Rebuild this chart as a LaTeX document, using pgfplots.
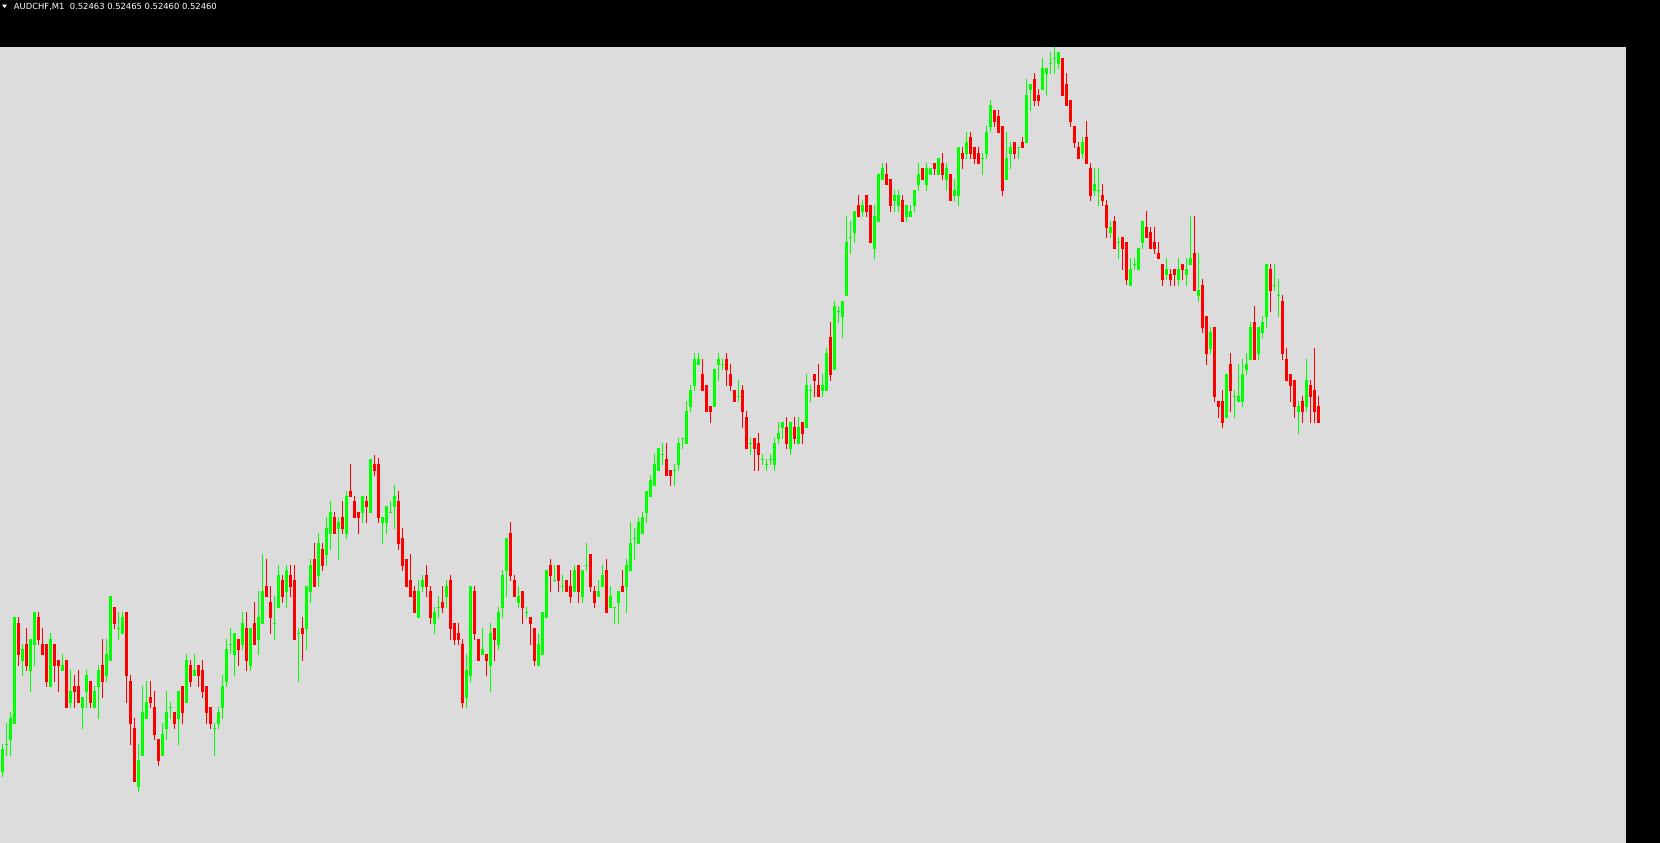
\documentclass[border=0pt]{standalone}
\usepackage{pgfplots}
\usepackage{pgfplotstable}
\pgfplotsset{compat=1.18}
\usepackage{fontspec}
\newfontfamily\hdrfont{DejaVu Sans}
\definecolor{bggray}{RGB}{220,220,220}
\pgfplotstableread{
i O H L C
0 771.7 744 776.7 749
1 745 723.3 755.7 744
2 739.7 712 755.7 718
3 723.7 617 723.7 617
4 623 617 666 655
5 660.7 644 676 649
6 644 628 671 665.7
7 671 639 691.7 639
8 645 612 665.7 612
9 617 612 645 640
10 644 628 655 655
11 644 644 686.7 682
12 687 633 687 639
13 644 644 682 665.7
14 660 660 691.7 665.7
15 670.7 654 670.7 665
16 660 660 707.7 707.7
17 702.7 670 707.7 691
18 686 675 707.7 691.7
19 686 670 702.7 702.7
20 707.7 697 728.7 697
21 691.7 670 707.7 675
22 681 681 707.7 702.7
23 707.7 686 707.7 691
24 686.7 665 718.7 670
25 665 639 697.7 682
26 676 639 682 654
27 660.7 596 660.7 596
28 607 607 629 623.7
29 629 612 639.7 628
30 633.7 612 633.7 617
31 612 612 702.7 676
32 681 675 744.7 723.7
33 728 718 781.7 781.7
34 786.7 744 792.3 760
35 755.7 686 755.7 712
36 718.7 681 718.7 702
37 697 681 707.7 702.7
38 707 691 739.7 734.7
39 739 739 765.7 760.7
40 755.7 723 755.7 734
41 728.7 691 739.7 712
42 707.8 702 718.7 706.8
43 712 712 728.7 723.7
44 718.7 691 744.7 691
45 686 686 723.7 712.7
46 702.7 654 702.7 660
47 665 660 686.7 682
48 675.7 654 675.7 670
49 665 665 686.7 675.7
50 670 660 697.7 691.7
51 686 686 723.7 712.7
52 707 707 728.7 723.7
53 728.8 722.7 755.7 727.8
54 723.7 707 728.7 712
55 707.7 675 718.7 686
56 681.7 638.7 686.7 649
57 644.5 628 654.3 643.5
58 655 633 675.7 633
59 638.7 638.7 665.7 649.7
60 644.7 612 649.7 623
61 628 612 670.7 660.7
62 665.7 628 670.7 628
63 623 602 644.7 644.7
64 639.7 591 654.7 617
65 623.7 554 623.7 591
66 586 559 596.7 596.7
67 602 586 633.7 617.7
68 623.8 596 639.7 622.8
69 607.7 565 607.7 575
70 580 575 602.7 596.7
71 591.7 565 607.7 570
72 575 565 596.7 586.7
73 580 565 639.7 639.7
74 633.8 628 681.7 632.8
75 628 617 660.7 633.7
76 628.7 586 649.7 586
77 591.7 559 602.7 565
78 559 543 586.7 586.7
79 575.7 533 586.7 543
80 549 543 570.7 565.7
81 554.7 517 565.7 528
82 533.7 501 549.7 512
83 517 512 533.7 533.7
84 528.7 517 559.7 522
85 517 501 533.7 528.7
86 533.7 491 538.7 496
87 491 464 496.7 496.7
88 501 496 517.7 517.7
89 512 512 533.7 517.7
90 512.7 496 522.7 496
91 501 496 522.7 506.7
92 512.7 459 512.7 459
93 464 455 475.7 470.7
94 464 458 522.7 517.7
95 522.7 517 543.7 517
96 522.7 506 533.7 506
97 512.5 501 513 511.5
98 506.7 485 528.7 496
99 501 491 549.7 543.7
100 538 528 570.7 565.7
101 559 559 586.7 586.7
102 580 554 596.7 596.7
103 591 586 612.7 612.7
104 617.7 580 617.7 591
105 586.7 575 591.7 580
106 575 565 596.7 586.7
107 591 586 623.7 617.7
108 623.7 607 633.7 612
109 607.8 596 617.7 606.8
110 602 586 612.7 607.7
111 596.7 580 607.7 586
112 580 575 639.7 628.7
113 623 623 644.7 639.7
114 633 623 644.7 639.7
115 644 638.7 707.7 702.7
116 697.7 654 707.7 670
117 675.7 586 681.7 586
118 591 586 639.7 633.7
119 638.7 638.7 660.7 660.7
120 654.7 628 654.7 649
121 654 654 675.7 660.7
122 665.7 623 691.7 633
123 628 628 660.7 639.7
124 644.7 607 649.7 612
125 607.7 570 617.7 575
126 570.7 538 596.7 538
127 533 522 581 575.7
128 580 575 596.7 596.7
129 602.7 586 607.7 596
130 591 591 623.7 607.7
131 612.5 607 617.7 611.5
132 617 617 644.7 623.7
133 628 628 665.7 660.7
134 665.7 633 665.7 644
135 654.7 612 654.7 612
136 617.7 570 617.7 570
137 565 559 591.7 575.7
138 580.8 565 581.5 579.8
139 565 565 591.7 581
140 586.5 575 591.7 585.5
141 580 580 591.7 591.7
142 586 570 603 597
143 592 565 592 570
144 565 565 603 592
145 597 570 603 570
146 566.2 543 570.7 565.2
147 554 554 592 587
148 591 586 608 603
149 597 580 597 591
150 587 565 587 575
151 570 559 613 613
152 608 586 608 596
153 607.8 606.5 624 606.8
154 603 591 624 591
155 586 570 592 592
156 587 559 613 565
157 570.7 522 570.7 543
158 539 528 560 538
159 544 517 544 522
160 534 512 534 517
161 513 491 523 491
162 497 475 497 480
163 486 454 486 464
164 471 448 471 448
165 454.8 443 465 453.8
166 459 443 476 476
167 470 470 486 476
168 470.8 464 486 469.8
169 465 438 471 443
170 438.8 437.8 449 437.8
171 444 401 444 411
172 407 385 412 390
173 386 353 391 359
174 365 353 365 359
175 374 359 391 391
176 385 385 412 412
177 406 406 423 412
178 407 369 407 369
179 365 353 381 359
180 364.8 359 370 363.8
181 359 353 386 370
182 374 364 391 386
183 390 390 402 402
184 396.8 380 402 395.8
185 390 385 428 412
186 417 411 449 449
187 444.2 438 455 443.2
188 438 438 470.7 449
189 443 433 470.7 455
190 460.2 454 465 459.2
191 465.2 459 470.7 464.2
192 460.2 454 465 459.2
193 465 438 470.7 443
194 439 422 444 433
195 428 422 439 422
196 427 417 449 444
197 449 422 455 422
198 427 417 444 439
199 444 417 444 427
200 422 422 444 434
201 428 374 428 385
202 390.5 385 402 389.5
203 374 374 397 381
204 385 364 397 397
205 391 374 397 385
206 391 348 391 353
207 337 322 381 375
208 370 301 370 306
209 311.8 306 323 310.8
210 317 301 338 301
211 296 216 296 242
212 237.8 221 254 236.8
213 233 211 243 211
214 205 195 217 217
215 212 200 217 205
216 195 195 217 212
217 205 205 243 243
218 249 205 259 216
219 222 174 222 174
220 180 163 180 168
221 174 163 185 185
222 179 179 212 206
223 201 190 212 195
224 206 190 212 195
225 200 195 222 222
226 217 205 222 205
227 217 205 217 211
228 206 190 212 190
229 185 163 191 174
230 168 168 180 180
231 185 163 191 168
232 175 168 175 168
233 163 163 175 169
234 175 158 175 158
235 163 153 180 175
236 180 163 191 168
237 174 174 201 201
238 196 179 201 190
239 196 147 206 147
240 153 147 169 159
241 154 132 159 142
242 137 132 159 154
243 147 147 164 159
244 153 147 164 164
245 159.2 153 175 158.2
246 154 126 159 132
247 127 100 132 105
248 110 110 127 122
249 116 110 133 133
250 126 126 196 191
251 180 132 180 158
252 154 142 169 147
253 142 142 159 154
254 147.8 146.8 159 146.8
255 142 137 148 148
256 143 79 143 95
257 90 84 111 84
258 79 73 106 101
259 95 89 106 101
260 90 58 90 68
261 74 68 96 68
262 63.8 52 74 62.8
263 58.8 47 74 57.8
264 64 52 69 52
265 58 58 96 96
266 84 73 106 106
267 100 100 127 122
268 126 126 148 143
269 147 142 159 159
270 154 137 159 142
271 137 121 164 164
272 168 163 201 196
273 191 168 196 184
274 190.5 168 206 189.5
275 195 184 206 201
276 205 200 238 228
277 233 221 238 227
278 221 216 249 249
279 242.8 237 259 241.8
280 237 237 270 249
281 242 242 285 280
282 286 258 286 269
283 264.5 258 270 263.5
284 270 248 270 248
285 243 221 249 221
286 227 211 238 238
287 232 227 249 249
288 242 227 254 249
289 253 242 259 259
290 264 264 286 280
291 275 258 280 269
292 274 269 286 280
293 269 269 286 275
294 280 258 286 269
295 264 264 280 270
296 275 258 286 269
297 265 216 265 258
298 253 216 291 291
299 296 253 302 290
300 285 279 333 328
301 316 316 365 354
302 349 327 354 332
303 327 327 402 397
304 401 401 418 407
305 401 390 428 423
306 418 374 418 374
307 364 353 412 391
308 396.8 390 418 395.8
309 402 364 402 396
310 402 359 407 374
311 370 353 375 364
312 360 322 360 327
313 322 306 360 360
314 354 327 360 327
315 333 316 338 322
316 317 264 328 264
317 269 264 312 291
318 285.8 264 291 284.8
319 295.8 279 317 294.8
320 301 295 360 354
321 359 348 381 381
322 374 374 402 386
323 380 380 418 407
324 412 401 434 406
325 401 396 423 412
326 407 359 412 380
327 385 380 423 397
328 390 348 423 412
329 406 396 423 423
}\candles
\begin{document}
\begin{tikzpicture}
\fill[black] (0pt,0pt) rectangle (1660pt,843pt);
\begin{axis}[
  at={(0pt,0pt)}, anchor=south west,
  scale only axis, width=1626pt, height=796pt,
  xmin=-0.625, xmax=405.875,
  ymin=47, ymax=843, y dir=reverse,
  axis line style={draw=none}, ticks=none,
  axis background/.style={fill=bggray},
  colormap={rg}{rgb255=(255,0,0) rgb255=(0,255,0)},
  point meta min=0, point meta max=1,
]
\addplot[quiver={u=0, v=\thisrow{H}-\thisrow{L}, colored}, line width=1pt, mark=none,
  point meta={\thisrow{O}>\thisrow{C}}] table[x=i, y=L] {\candles};
\addplot[quiver={u=0, v=\thisrow{C}-\thisrow{O}, colored}, line width=3pt, mark=none,
  point meta={\thisrow{O}>\thisrow{C}}] table[x=i, y=O] {\candles};
\end{axis}
\fill[white] (2pt,838.3pt) -- (7pt,838.3pt) -- (4.5pt,835pt) -- cycle;
\node[anchor=base west, inner sep=0pt, text=white, font=\hdrfont\fontsize{8.4}{10}\selectfont] at (13.7pt,833.5pt) {AUDCHF,M1\ \ 0.52463 0.52465 0.52460 0.52460};
\end{tikzpicture}
\end{document}
